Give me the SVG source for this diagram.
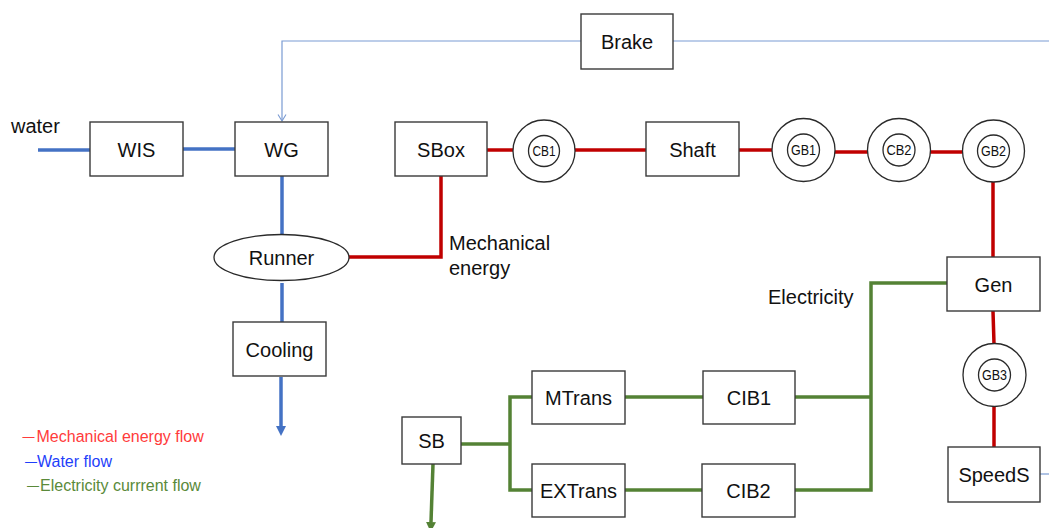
<svg xmlns="http://www.w3.org/2000/svg" width="1049" height="528" viewBox="0 0 1049 528">
  <defs>
    <style>
      .box { fill: #ffffff; stroke: #3a3a3a; stroke-width: 1.4; }
      .ring { fill: #ffffff; stroke: #2a2a2a; stroke-width: 1.3; }
      .lbl { font-family: "Liberation Sans", Arial, sans-serif; font-size: 20px; fill: #111111; text-anchor: middle; }
      .tag { font-family: "Liberation Sans", Arial, sans-serif; font-size: 14.5px; fill: #111111; text-anchor: middle; }
      .note { font-family: "Liberation Sans", Arial, sans-serif; font-size: 20px; fill: #111111; }
      .legend { font-family: "Liberation Sans", Arial, sans-serif; font-size: 16px; }
      .mech { fill: none; stroke: #C00000; stroke-width: 3.5; }
      .water { fill: none; stroke: #4472C4; stroke-width: 3.5; }
      .elec { fill: none; stroke: #548235; stroke-width: 3.5; stroke-linejoin: miter; }
      .ctrl { fill: none; stroke: #7A9BD3; stroke-width: 1.2; }
    </style>
    <marker id="arrowWater" markerUnits="userSpaceOnUse" markerWidth="10" markerHeight="10" refX="0" refY="5" orient="auto">
      <path d="M0,0 L10,5 L0,10 z" fill="#4472C4"/>
    </marker>
    <marker id="arrowElec" markerUnits="userSpaceOnUse" markerWidth="10" markerHeight="10" refX="0" refY="5" orient="auto">
      <path d="M0,0 L10,5 L0,10 z" fill="#548235"/>
    </marker>
    <marker id="arrowCtrl" markerUnits="userSpaceOnUse" markerWidth="8" markerHeight="10" refX="7" refY="4.5" orient="auto">
      <path d="M0.5,0.5 L7,4.5 L0.5,8.5" fill="none" stroke="#7A9BD3" stroke-width="1.1"/>
    </marker>
  </defs>

  <rect x="0" y="0" width="1049" height="528" fill="#ffffff"/>

  <!-- connectors -->
  <g id="connectors">
    <!-- brake control line -->
    <path class="ctrl" d="M1049,41 L673,41"/>
    <path class="ctrl" d="M581,41 L282,41 L282,121" marker-end="url(#arrowCtrl)"/>
    <path class="ctrl" d="M1040,474 L1049,474"/>

    <!-- water path -->
    <path class="water" d="M38,150 L90,150"/>
    <path class="water" d="M183,149 L235,149"/>
    <path class="water" d="M282,176 L282,234"/>
    <path class="water" d="M282,283 L282,322"/>
    <path class="water" d="M281,377 L281,426" marker-end="url(#arrowWater)"/>

    <!-- mechanical energy path -->
    <path class="mech" d="M349,257 L441,257 L441,176"/>
    <path class="mech" d="M487,150 L513,150"/>
    <path class="mech" d="M575,150 L646,150"/>
    <path class="mech" d="M739,150 L772,150"/>
    <path class="mech" d="M835,152 L868,152"/>
    <path class="mech" d="M930,152 L962,152"/>
    <path class="mech" d="M993,182 L993,257"/>
    <path class="mech" d="M993,311 L994,344"/>
    <path class="mech" d="M994,406 L994,447"/>

    <!-- electricity path -->
    <path class="elec" d="M947,283 L871,283 L871,490 L795,490"/>
    <path class="elec" d="M795,397 L871,397"/>
    <path class="elec" d="M625,397 L703,397"/>
    <path class="elec" d="M625,490 L702,490"/>
    <path class="elec" d="M532,397 L510,397 L510,490 L532,490"/>
    <path class="elec" d="M461,444 L510,444"/>
    <path class="elec" d="M433,464 L431,522" marker-end="url(#arrowElec)"/>
  </g>

  <!-- nodes -->
  <g id="node-WIS">
    <rect class="box" x="90" y="122" width="93" height="54"/>
    <text class="lbl" x="136.5" y="156.5">WIS</text>
  </g>
  <g id="node-WG">
    <rect class="box" x="235" y="122" width="93" height="54"/>
    <text class="lbl" x="281.5" y="156.5">WG</text>
  </g>
  <g id="node-Brake">
    <rect class="box" x="581" y="14" width="92" height="55"/>
    <text class="lbl" x="627" y="49">Brake</text>
  </g>
  <g id="node-SBox">
    <rect class="box" x="395" y="122" width="92" height="54"/>
    <text class="lbl" x="441" y="156.5">SBox</text>
  </g>
  <g id="node-CB1">
    <circle class="ring" cx="544" cy="151" r="31"/>
    <circle class="ring" cx="544" cy="151" r="15.5"/>
    <text class="tag" x="544" y="156" textLength="23" lengthAdjust="spacingAndGlyphs">CB1</text>
  </g>
  <g id="node-Shaft">
    <rect class="box" x="646" y="122" width="93" height="54"/>
    <text class="lbl" x="692.5" y="156.5">Shaft</text>
  </g>
  <g id="node-GB1">
    <circle class="ring" cx="803.5" cy="150" r="31.5"/>
    <circle class="ring" cx="803.5" cy="150" r="16"/>
    <text class="tag" x="803.5" y="155" textLength="25" lengthAdjust="spacingAndGlyphs">GB1</text>
  </g>
  <g id="node-CB2">
    <circle class="ring" cx="899" cy="150" r="31.5"/>
    <circle class="ring" cx="899" cy="150" r="16"/>
    <text class="tag" x="899" y="155" textLength="25" lengthAdjust="spacingAndGlyphs">CB2</text>
  </g>
  <g id="node-GB2">
    <circle class="ring" cx="993.5" cy="151" r="31"/>
    <circle class="ring" cx="993.5" cy="151" r="16"/>
    <text class="tag" x="993.5" y="156" textLength="25" lengthAdjust="spacingAndGlyphs">GB2</text>
  </g>
  <g id="node-Runner">
    <ellipse class="ring" cx="281.5" cy="257.5" rx="67.5" ry="23"/>
    <text class="lbl" x="281.5" y="265">Runner</text>
  </g>
  <g id="node-Cooling">
    <rect class="box" x="233" y="322" width="93" height="54"/>
    <text class="lbl" x="279.5" y="356.5">Cooling</text>
  </g>
  <g id="node-Gen">
    <rect class="box" x="947" y="257" width="93" height="54"/>
    <text class="lbl" x="993.5" y="291.5">Gen</text>
  </g>
  <g id="node-GB3">
    <circle class="ring" cx="994.5" cy="375" r="31.5"/>
    <circle class="ring" cx="994.5" cy="375" r="16"/>
    <text class="tag" x="994.5" y="380" textLength="25" lengthAdjust="spacingAndGlyphs">GB3</text>
  </g>
  <g id="node-SpeedS">
    <rect class="box" x="948" y="447" width="92" height="55"/>
    <text class="lbl" x="994" y="482">SpeedS</text>
  </g>
  <g id="node-MTrans">
    <rect class="box" x="532" y="371" width="93" height="53"/>
    <text class="lbl" x="578.5" y="405">MTrans</text>
  </g>
  <g id="node-CIB1">
    <rect class="box" x="703" y="371" width="92" height="53"/>
    <text class="lbl" x="749" y="405">CIB1</text>
  </g>
  <g id="node-EXTrans">
    <rect class="box" x="532" y="464" width="93" height="53"/>
    <text class="lbl" x="578.5" y="498">EXTrans</text>
  </g>
  <g id="node-CIB2">
    <rect class="box" x="702" y="464" width="93" height="53"/>
    <text class="lbl" x="748.5" y="498">CIB2</text>
  </g>
  <g id="node-SB">
    <rect class="box" x="402" y="417" width="59" height="47"/>
    <text class="lbl" x="431.5" y="447.5">SB</text>
  </g>

  <!-- free labels -->
  <g id="labels">
    <text class="note" x="11" y="133">water</text>
    <text class="note" x="449" y="250">Mechanical</text>
    <text class="note" x="449" y="275">energy</text>
    <text class="note" x="768" y="304">Electricity</text>
  </g>

  <!-- legend -->
  <g id="legend">
    <text class="legend" x="22.5" y="442" fill="#FF3B3B"><tspan font-size="12" dy="-1.5">—</tspan><tspan dx="2" dy="1.5">Mechanical energy flow</tspan></text>
    <text class="legend" x="25" y="467" fill="#1F3FFA"><tspan font-size="12" dy="-1.5">—</tspan><tspan dx="0" dy="1.5">Water flow</tspan></text>
    <text class="legend" x="27" y="491" fill="#5A8A3A"><tspan font-size="12" dy="-1.5">—</tspan><tspan dx="1" dy="1.5">Electricity currrent flow</tspan></text>
  </g>
</svg>
